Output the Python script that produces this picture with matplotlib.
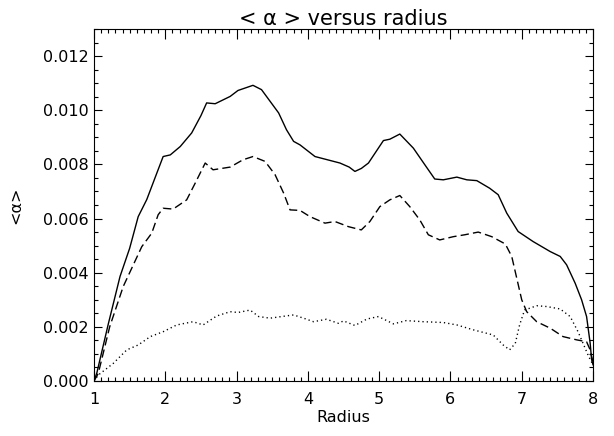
import matplotlib
matplotlib.use("Agg")
import matplotlib.pyplot as plt
from matplotlib.ticker import MultipleLocator, FormatStrFormatter

plt.rcParams['font.family'] = ['DejaVu Sans']

# Solid curve
r_solid = [1.0, 1.04, 1.2, 1.365, 1.5, 1.62, 1.74, 1.87, 1.97, 2.07, 2.21, 2.37, 2.5, 2.58, 2.70,
           2.91, 3.02, 3.12, 3.23, 3.35, 3.47, 3.59, 3.70, 3.80, 3.89, 4.10, 4.45, 4.58, 4.66,
           4.75, 4.85, 5.06, 5.15, 5.29, 5.48, 5.64, 5.78, 5.90, 6.09, 6.23, 6.37, 6.55, 6.67,
           6.79, 6.95, 7.16, 7.40, 7.54, 7.63, 7.75, 7.84, 7.91, 7.96, 7.98, 8.0]
v_solid = [0.0, 0.0003, 0.0021, 0.00386, 0.0049, 0.00607, 0.0067, 0.0076, 0.00829, 0.00835, 0.00866,
           0.00916, 0.0098, 0.01027, 0.01024, 0.01051, 0.01073, 0.01082, 0.01092, 0.01076, 0.01033,
           0.0099, 0.00928, 0.00885, 0.00872, 0.00829, 0.00805, 0.0079, 0.00774, 0.00785, 0.00805,
           0.00888, 0.00893, 0.00912, 0.0086, 0.00799, 0.00746, 0.00743, 0.00753, 0.00743, 0.0074,
           0.00712, 0.00688, 0.0062, 0.00552, 0.00515, 0.00478, 0.0046, 0.00429, 0.00361, 0.003,
           0.00238, 0.0014, 0.0008, 0.0006]

# Dashed curve
r_dash = [1.0, 1.06, 1.22, 1.41, 1.67, 1.81, 1.90, 1.97, 2.11, 2.30, 2.42, 2.56, 2.67, 2.91, 3.09,
          3.23, 3.40, 3.54, 3.66, 3.75, 3.89, 4.03, 4.24, 4.38, 4.57, 4.75, 4.87, 5.01, 5.15,
          5.29, 5.43, 5.57, 5.69, 5.85, 6.04, 6.20, 6.39, 6.58, 6.77, 6.86, 6.93, 7.0, 7.07,
          7.21, 7.40, 7.58, 7.77, 7.91, 7.96, 8.0]
v_dash = [0.0, 0.00028, 0.002, 0.00349, 0.00496, 0.00546, 0.00614, 0.00638, 0.00635, 0.00669,
          0.00731, 0.00805, 0.0078, 0.0079, 0.00817, 0.00829, 0.00811, 0.00762, 0.00694, 0.00632,
          0.0063, 0.00607, 0.00583, 0.00589, 0.0057, 0.00558, 0.00589, 0.00644, 0.00669, 0.00685,
          0.00644, 0.00595, 0.0054, 0.00521, 0.00533, 0.0054, 0.0055, 0.00533, 0.00506, 0.0046,
          0.0038, 0.003, 0.00256, 0.00219, 0.00195, 0.00164, 0.00152, 0.00145, 0.00115, 0.0007]

# Dotted curve
r_dot = [1.0, 1.06, 1.27, 1.46, 1.62, 1.79, 1.97, 2.16, 2.39, 2.53, 2.72, 2.91, 3.02, 3.19, 3.31,
         3.47, 3.63, 3.80, 3.94, 4.08, 4.26, 4.43, 4.50, 4.66, 4.83, 4.99, 5.20, 5.38, 5.62,
         5.90, 6.09, 6.32, 6.60, 6.74, 6.83, 6.91, 6.97, 7.04, 7.21, 7.35, 7.54, 7.68, 7.79,
         7.89, 7.94, 8.0]
v_dot = [0.0, 0.00022, 0.00065, 0.00115, 0.00133, 0.00164, 0.00182, 0.00207, 0.00219, 0.00207,
         0.0024, 0.00256, 0.00253, 0.00262, 0.00238, 0.00232, 0.00238, 0.00244, 0.00232, 0.00219,
         0.00228, 0.00213, 0.00222, 0.00205, 0.00229, 0.00238, 0.00211, 0.00223, 0.00219, 0.00216,
         0.00207, 0.00189, 0.0017, 0.00133, 0.00115, 0.00139, 0.00207, 0.00262, 0.00278, 0.00275,
         0.00266, 0.00238, 0.00182, 0.00121, 0.0009, 0.0006]

title = "< \u03b1 > versus radius"
xlabel = "Radius"
ylabel = "<\u03b1>"

fig = plt.figure(figsize=(6.14, 4.36), dpi=100)
ax = fig.add_axes([94/614, 55/436, 499/614, 352/436])

ax.plot(r_solid, v_solid, color='black', lw=1.0, linestyle='-')
ax.plot(r_dash, v_dash, color='black', lw=1.0, linestyle=(0, (6, 3)))
ax.plot(r_dot, v_dot, color='black', lw=1.0, linestyle=(0, (0.9, 2.2)))

ax.set_xlim(1, 8)
ax.set_ylim(0, 0.013)
ax.xaxis.set_major_locator(MultipleLocator(1))
ax.xaxis.set_minor_locator(MultipleLocator(0.1))
ax.yaxis.set_major_locator(MultipleLocator(0.002))
ax.yaxis.set_minor_locator(MultipleLocator(0.0005))
ax.yaxis.set_major_formatter(FormatStrFormatter('%.3f'))
ax.xaxis.set_major_formatter(FormatStrFormatter('%d'))

ax.tick_params(which='both', direction='in', top=True, right=True, width=0.8,
               labelsize=11.5, colors='black')
ax.tick_params(axis='x', which='major', length=7, pad=8)
ax.tick_params(axis='x', which='minor', length=3)
ax.tick_params(axis='y', which='major', length=6, pad=4)
ax.tick_params(axis='y', which='minor', length=3)
for s in ax.spines.values():
    s.set_linewidth(0.8)

ax.set_title(title, fontsize=15, pad=3)
ax.set_xlabel(xlabel, fontsize=11.5, labelpad=2)
ax.set_ylabel(ylabel, fontsize=11.5, labelpad=14)

fig.savefig("out.png", dpi=100)
